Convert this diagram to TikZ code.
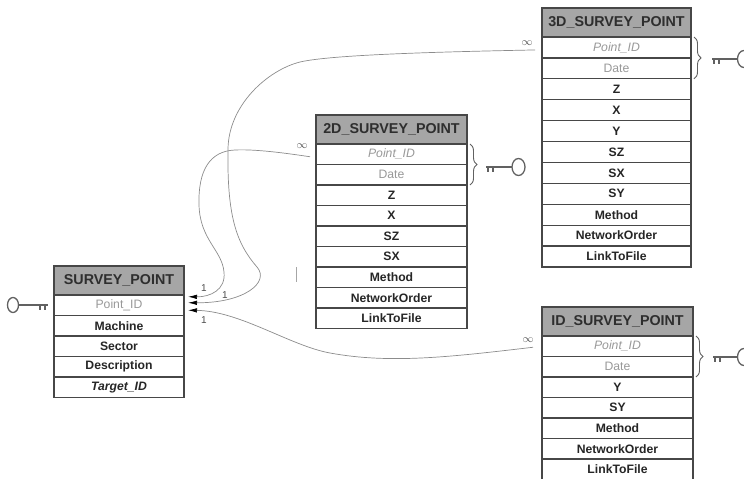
\documentclass[tikz,border=0pt]{standalone}
\usepackage{fontspec}
\setmainfont{Liberation Sans}
\usepackage{tikz}
\usetikzlibrary{arrows.meta,positioning,decorations.pathreplacing}

\begin{document}
\begin{tikzpicture}[
    x=1pt, y=-1pt,
    header/.style={draw=black!72, fill=black!35, line width=1.2pt, outer sep=0pt, inner sep=2pt,
                   minimum height=29pt, font=\bfseries\fontsize{14.3}{16}\selectfont, text=black!82},
    field/.style={draw=black!72, fill=white, line width=1.2pt, outer sep=0pt, inner sep=2pt,
                  minimum height=20.5pt, font=\bfseries\fontsize{12.2}{14}\selectfont, text=black!85},
    keyfield/.style={field, font=\itshape\fontsize{12.2}{14}\selectfont, text=black!40},
    grayfield/.style={field, font=\fontsize{12.2}{14}\selectfont, text=black!40},
    fkfield/.style={field, font=\bfseries\itshape\fontsize{12.2}{14}\selectfont},
    spcol/.style={minimum width=130pt},
    col2d/.style={minimum width=151pt},
    col3d/.style={minimum width=149pt, minimum height=20.9pt},
    col1d/.style={minimum width=151pt},
    pkbrace/.style={draw=black!62, line width=0.9pt, decorate, decoration={brace, amplitude=7pt}},
    keyline/.style={draw=black!62, line width=1.3pt},
    rel/.style={draw=black!45, line width=0.7pt, -{Latex[length=9pt, width=4.5pt, color=black]}},
    mult/.style={font=\fontsize{10}{11}\selectfont, text=black!70, inner sep=1pt}
]
\useasboundingbox (0,0) rectangle (744,479);

% SURVEY_POINT table.
\node[spcol, header, anchor=north west] (sp) at (54,266) {SURVEY\_POINT};
\node[grayfield, spcol, below=0pt of sp] (sppid) {Point\_ID};
\node[field, spcol, below=0pt of sppid] (spmach) {Machine};
\node[field, spcol, below=0pt of spmach] (spsect) {Sector};
\node[field, spcol, below=0pt of spsect] (spdesc) {Description};
\node[fkfield, spcol, below=0pt of spdesc] (sptarget) {Target\_ID};

% 2D_SURVEY_POINT table.
\node[col2d, header, anchor=north west] (d2) at (316,115) {2D\_SURVEY\_POINT};
\node[keyfield, col2d, below=0pt of d2] (d2pid) {Point\_ID};
\node[grayfield, col2d, below=0pt of d2pid] (d2date) {Date};
\node[field, col2d, below=0pt of d2date] (d2z) {Z};
\node[field, col2d, below=0pt of d2z] (d2x) {X};
\node[field, col2d, below=0pt of d2x] (d2sz) {SZ};
\node[field, col2d, below=0pt of d2sz] (d2sx) {SX};
\node[field, col2d, below=0pt of d2sx] (d2meth) {Method};
\node[field, col2d, below=0pt of d2meth] (d2net) {NetworkOrder};
\node[field, col2d, below=0pt of d2net] (d2link) {LinkToFile};

% 3D_SURVEY_POINT table.
\node[col3d, header, anchor=north west] (d3) at (542,8) {3D\_SURVEY\_POINT};
\node[keyfield, col3d, below=0pt of d3] (d3pid) {Point\_ID};
\node[grayfield, col3d, below=0pt of d3pid] (d3date) {Date};
\node[field, col3d, below=0pt of d3date] (d3z) {Z};
\node[field, col3d, below=0pt of d3z] (d3x) {X};
\node[field, col3d, below=0pt of d3x] (d3y) {Y};
\node[field, col3d, below=0pt of d3y] (d3sz) {SZ};
\node[field, col3d, below=0pt of d3sz] (d3sx) {SX};
\node[field, col3d, below=0pt of d3sx] (d3sy) {SY};
\node[field, col3d, below=0pt of d3sy] (d3meth) {Method};
\node[field, col3d, below=0pt of d3meth] (d3net) {NetworkOrder};
\node[field, col3d, below=0pt of d3net] (d3link) {LinkToFile};

% ID_SURVEY_POINT table.
\node[col1d, header, anchor=north west] (d1) at (542,307) {ID\_SURVEY\_POINT};
\node[keyfield, col1d, below=0pt of d1] (d1pid) {Point\_ID};
\node[grayfield, col1d, below=0pt of d1pid] (d1date) {Date};
\node[field, col1d, below=0pt of d1date] (d1y) {Y};
\node[field, col1d, below=0pt of d1y] (d1sy) {SY};
\node[field, col1d, below=0pt of d1sy] (d1meth) {Method};
\node[field, col1d, below=0pt of d1meth] (d1net) {NetworkOrder};
\node[field, col1d, below=0pt of d1net] (d1link) {LinkToFile};

% Primary keys: braces and key symbols.
\draw[pkbrace] ([xshift=3pt]d2pid.north east) -- ([xshift=3pt]d2date.south east);
\draw[pkbrace] ([xshift=3pt]d3pid.north east) -- ([xshift=3pt]d3date.south east);
\draw[pkbrace] ([xshift=3pt]d1pid.north east) -- ([xshift=3pt]d1date.south east);

\draw[keyline] (13,305) ellipse (5.5pt and 7.5pt);
\draw[keyline] (18.5,305) -- (48,305) (40,305) -- (40,309.5) (45,305) -- (45,309.5);
\draw[keyline] (518.5,167) ellipse (6.5pt and 8.5pt);
\draw[keyline] (486,167) -- (512,167) (488,167) -- (488,172) (493,167) -- (493,172);
\draw[keyline] (744,59) ellipse (6.5pt and 8.5pt);
\draw[keyline] (712,59) -- (737.5,59) (714,59) -- (714,64) (719,59) -- (719,64);
\draw[keyline] (744,357) ellipse (6.5pt and 8.5pt);
\draw[keyline] (713,357) -- (737.5,357) (715,357) -- (715,362) (720,357) -- (720,362);

% Relationships into SURVEY_POINT.
\draw[rel] ([xshift=-7pt,yshift=-2.5pt]d3pid.west)
    .. controls (430,52) and (330,55) .. (300,62)
    .. controls (268,70) and (228,105) .. (228,150)
    .. controls (227,215) and (236,243) .. (257,267)
    .. controls (270,282) and (245,303) .. ([xshift=4pt,yshift=2.5pt]sppid.east);
\draw[rel] ([xshift=-6pt,yshift=-2.5pt]d2pid.west)
    .. controls (285,153) and (255,149) .. (235,150)
    .. controls (210,151) and (198,170) .. (199,205)
    .. controls (200,240) and (222,250) .. (224,272)
    .. controls (226,290) and (210,297) .. ([xshift=4pt,yshift=8.5pt]sppid.east);
\draw[rel] ([xshift=-9pt,yshift=-1pt]d1pid.west)
    .. controls (450,357) and (390,364) .. (330,353)
    .. controls (290,345.7) and (240,311) .. ([xshift=4pt,yshift=-5pt]sppid.east);

\node[mult, font=\fontsize{11}{12}\selectfont] (inf3d) at (527,43) {$\infty$};
\node[mult, font=\fontsize{11}{12}\selectfont] (inf2d) at (302,146) {$\infty$};
\node[mult, font=\fontsize{11}{12}\selectfont] (inf1d) at (528,340) {$\infty$};
\node[mult] (one2d) at (204,288) {1};
\node[mult] (one3d) at (225,295) {1};
\node[mult] (one1d) at (204,320) {1};

\draw[black!35, line width=0.6pt] (296,267) -- (296,282);

\end{tikzpicture}
\end{document}
